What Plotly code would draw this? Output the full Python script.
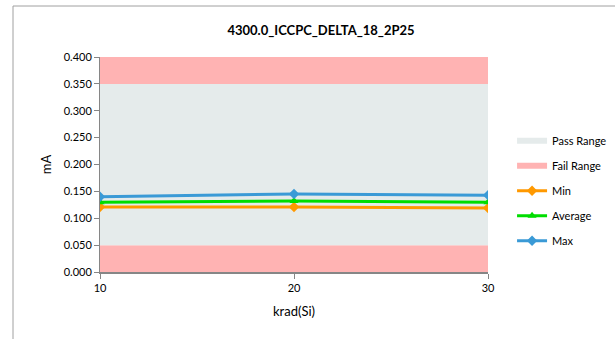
import plotly.graph_objects as go

title = "4300.0_ICCPC_DELTA_18_2P25"
krad = [10, 20, 30]
min_vals = [0.121, 0.121, 0.119]
avg_vals = [0.130, 0.132, 0.130]
max_vals = [0.140, 0.145, 0.143]
fail_low = [0.05, 0.05, 0.05]
pass_high = [0.35, 0.35, 0.35]
fail_high = [0.40, 0.40, 0.40]
y_ticks = [0.0, 0.05, 0.1, 0.15, 0.2, 0.25, 0.3, 0.35, 0.4]

FONT = "Lato, Open Sans, sans-serif"
PINK = "#FFB3B3"
PASS = "#E5EBEB"

fig = go.Figure()
fig.add_trace(go.Scatter(x=krad, y=fail_low, mode="none", fill="tozeroy",
                         fillcolor=PINK, showlegend=False, hoverinfo="skip",
                         legendgroup="f0"))
fig.add_trace(go.Scatter(x=krad, y=pass_high, mode="none", fill="tonexty",
                         fillcolor=PASS, name="Pass Range", legendgroup="g1"))
fig.add_trace(go.Scatter(x=krad, y=fail_high, mode="none", fill="tonexty",
                         fillcolor=PINK, name="Fail Range", legendgroup="g2"))
fig.add_trace(go.Scatter(x=krad, y=min_vals, name="Min", mode="lines+markers",
                         line=dict(color="#FF9900", width=3), legendgroup="g3",
                         marker=dict(symbol="diamond", size=8, color="#FF9900")))
fig.add_trace(go.Scatter(x=krad, y=avg_vals, name="Average", mode="lines+markers",
                         line=dict(color="#00DD00", width=3), legendgroup="g4",
                         marker=dict(symbol="triangle-up", size=8, color="#00DD00")))
fig.add_trace(go.Scatter(x=krad, y=max_vals, name="Max", mode="lines+markers",
                         line=dict(color="#3A9AD6", width=3), legendgroup="g5",
                         marker=dict(symbol="diamond", size=8, color="#3A9AD6")))

fig.update_layout(
    width=615, height=339,
    margin=dict(l=100, r=127, t=57, b=67, autoexpand=False),
    paper_bgcolor="white", plot_bgcolor="white",
    font=dict(family=FONT, size=11, color="#000000"),
    title=dict(text="<b>" + title + "</b>", x=(321 - 100) / 388, xanchor="center",
               xref="paper", y=1 - 30 / 339, yanchor="middle",
               font=dict(size=13, family=FONT)),
    legend=dict(x=1.062, xanchor="left", y=0.378, yanchor="middle",
                font=dict(size=11, family=FONT), tracegroupgap=6,
                traceorder="grouped", itemwidth=30, bgcolor="rgba(0,0,0,0)"),
    showlegend=True,
)
fig.update_xaxes(range=[10, 30], tickvals=krad, ticktext=[str(v) for v in krad],
                 showgrid=False, zeroline=False, showline=True, linecolor="#868686",
                 linewidth=2, ticks="outside", tickcolor="#868686", ticklen=5,
                 title=dict(text="krad(Si)", font=dict(size=13, family=FONT), standoff=14))
fig.update_yaxes(range=[0, 0.4], tickvals=y_ticks, tickformat=".3f",
                 showgrid=False, zeroline=False, showline=True, linecolor="#868686",
                 linewidth=1, ticks="outside", tickcolor="#868686", ticklen=5,
                 title=dict(text="mA", font=dict(size=13, family=FONT), standoff=9))

# chart border (partially visible)
fig.add_shape(type="line", xref="paper", yref="paper", x0=-0.2242, x1=-0.2242,
              y0=1.2372, y1=-0.45, line=dict(color="#A0A0A0", width=1))
fig.add_shape(type="line", xref="paper", yref="paper", x0=-0.2242, x1=1.5,
              y0=1.2372, y1=1.2372, line=dict(color="#A0A0A0", width=1))

fig.write_html("out.html", config={"displayModeBar": False},
               post_script="document.body.style.margin='0';")
